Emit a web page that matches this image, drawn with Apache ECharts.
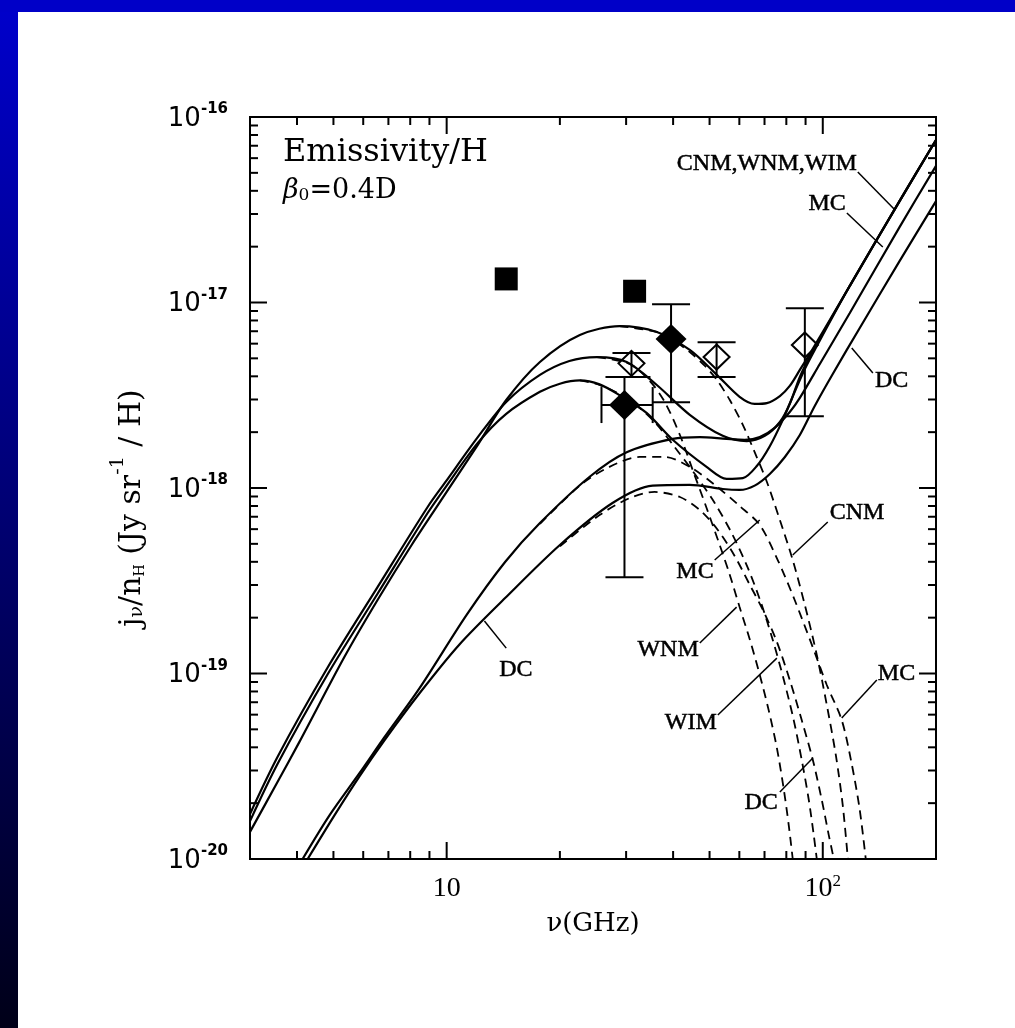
<!DOCTYPE html>
<html>
<head>
<meta charset="utf-8">
<title>Emissivity per H</title>
<script src="https://cdn.jsdelivr.net/npm/echarts/dist/echarts.min.js"></script>
<style>
  html, body { margin: 0; padding: 0; background: #fff; }
  #chart { width: 1015px; height: 1028px; }
</style>
</head>
<body>
<div id="chart"></div>
<script>
// Frequency ν in GHz, emissivity j_ν/n_H in Jy sr^-1 per H.

// Total emission (rotational + thermal) for each phase
const cnmTotal = [[3.0,1.40e-20],[3.55,2.60e-20],[4.06,4.28e-20],[5.35,1.23e-19],[6.55,2.49e-19],[8.07,4.93e-19],[10.0,9.52e-19],[12.1,1.71e-18],[14.4,2.98e-18],[17.7,4.78e-18],[22.6,6.68e-18],[28.8,7.46e-18],[36.2,6.94e-18],[44.3,5.55e-18],[52.3,4.07e-18],[60.1,3.10e-18],[65.9,2.84e-18],[71.0,2.87e-18],[76.9,3.13e-18],[81.7,3.55e-18],[86.9,4.33e-18],[92.3,5.27e-18],[118,1.23e-17],[160,3.52e-17],[200,7.52e-17]];
const wnmTotal = [[3.0,1.75e-20],[3.55,3.55e-20],[4.83,1.08e-19],[6.55,2.92e-19],[8.90,7.90e-19],[10.0,1.10e-18],[12.1,1.88e-18],[14.4,2.91e-18],[17.7,4.07e-18],[21.2,4.84e-18],[25.1,5.08e-18],[30.1,4.78e-18],[36.2,3.59e-18],[44.3,2.48e-18],[54.2,1.91e-18],[62.8,1.79e-18],[70.1,1.91e-18],[76.9,2.27e-18],[81.7,2.84e-18],[86.9,3.97e-18],[92.3,5.08e-18],[118,1.23e-17],[160,3.52e-17],[200,7.52e-17]];
const wimTotal = [[3.0,1.60e-20],[3.55,3.25e-20],[4.83,9.93e-20],[6.55,2.69e-19],[8.90,7.33e-19],[10.0,1.03e-18],[12.1,1.75e-18],[14.4,2.51e-18],[17.7,3.30e-18],[20.0,3.65e-18],[22.6,3.80e-18],[25.5,3.62e-18],[28.8,3.17e-18],[34.0,2.54e-18],[39.9,1.82e-18],[49.1,1.30e-18],[55.5,1.12e-18],[61.3,1.13e-18],[66.7,1.31e-18],[72.3,1.68e-18],[78.3,2.33e-18],[84.2,3.30e-18],[89.6,4.38e-18],[95.2,5.55e-18],[118,1.23e-17],[160,3.52e-17],[200,7.52e-17]];
const mcTotal = [[4.14,1.0e-20],[4.89,1.73e-20],[5.87,2.91e-20],[6.84,4.55e-20],[8.48,8.36e-20],[11.3,2.07e-19],[14.3,3.99e-19],[17.7,6.47e-19],[24.0,1.15e-18],[30.1,1.56e-18],[39.9,1.84e-18],[47.1,1.88e-18],[55.5,1.84e-18],[62.0,1.82e-18],[68.0,1.88e-18],[74.5,2.11e-18],[81.7,2.57e-18],[86.9,3.06e-18],[98.2,4.66e-18],[118,8.78e-18],[160,2.55e-17],[200,5.45e-17]];
const dcTotal = [[4.27,1.0e-20],[5.04,1.73e-20],[5.87,2.80e-20],[6.84,4.38e-20],[8.48,7.85e-20],[10.8,1.43e-19],[14.3,2.55e-19],[20.0,4.93e-19],[27.6,8.30e-19],[35.3,1.03e-18],[44.3,1.04e-18],[54.2,9.88e-19],[60.1,9.76e-19],[65.9,1.03e-18],[72.3,1.19e-18],[79.3,1.47e-18],[86.9,1.93e-18],[95.2,2.77e-18],[106.3,4.12e-18],[125.4,7.29e-18],[160,1.67e-17],[200,3.52e-17]];

// Rotational emission alone (dashed), high-frequency fall-off
const cnmSpin = [[28.8,7.46e-18],[36.2,6.94e-18],[39.9,6.29e-18],[44.3,5.41e-18],[48.6,4.55e-18],[52.3,3.82e-18],[56.6,2.98e-18],[61.3,2.19e-18],[65.9,1.56e-18],[71.0,1.08e-18],[76.9,6.72e-19],[83.2,4.09e-19],[89.6,2.34e-19],[96.4,1.26e-19],[102.5,6.76e-20],[108.3,3.64e-20],[113.0,1.95e-20],[116.6,1.0e-20]];
const wnmSpin = [[25.1,5.08e-18],[30.7,4.66e-18],[34.7,3.77e-18],[38.0,2.91e-18],[41.7,1.93e-18],[45.1,1.25e-18],[49.1,7.80e-19],[53.2,4.93e-19],[56.6,3.40e-19],[60.1,2.28e-19],[64.0,1.52e-19],[68.0,9.81e-20],[71.8,6.35e-20],[75.5,3.97e-20],[78.8,2.36e-20],[81.2,1.52e-20],[83.2,1.0e-20]];
const wimSpin = [[22.6,3.80e-18],[25.5,3.60e-18],[30.7,2.98e-18],[35.7,2.27e-18],[40.4,1.66e-18],[45.7,1.19e-18],[51.6,8.30e-19],[57.6,5.58e-19],[63.2,3.71e-19],[68.4,2.43e-19],[73.6,1.52e-19],[78.8,9.23e-20],[83.7,5.61e-20],[87.9,3.42e-20],[91.8,2.08e-20],[94.6,1.35e-20],[96.4,1.0e-20]];
const mcSpin = [[17.7,6.40e-19],[22.6,1.03e-18],[27.1,1.30e-18],[32.6,1.47e-18],[38.0,1.47e-18],[44.3,1.30e-18],[51.6,1.04e-18],[60.1,8.00e-19],[68.0,6.32e-19],[75.9,4.09e-19],[84.2,2.49e-19],[93.5,1.43e-19],[102.5,8.67e-20],[112.3,5.61e-20],[119.4,3.25e-20],[125.4,1.84e-20],[130.1,1.0e-20]];
const dcSpin = [[20.0,4.85e-19],[25.5,7.15e-19],[30.7,8.83e-19],[35.7,9.52e-19],[41.7,8.94e-19],[47.1,7.61e-19],[52.6,5.94e-19],[58.3,4.30e-19],[64.0,3.00e-19],[69.7,2.15e-19],[75.5,1.48e-19],[81.7,9.23e-20],[87.9,5.61e-20],[94.1,3.42e-20],[99.4,2.08e-20],[103.7,1.35e-20],[107.0,1.0e-20]];

// Measurements
const squarePoints = [[14.4,1.34e-17],[31.6,1.15e-17]];
const filledDiamonds = [[39.5,6.35e-18],[29.7,2.80e-18]];
const openDiamonds = [[31.0,4.70e-18],[52.2,5.08e-18],[89.6,5.90e-18]];
// [ν, j, j low, j high, ν low, ν high]
const filledErrors = [[39.5,6.35e-18,2.90e-18,9.80e-18,null,null],[29.7,2.80e-18,3.30e-19,3.97e-18,25.8,35.3]];
const openErrors = [[31.0,4.70e-18,3.97e-18,5.35e-18,null,null],[52.2,5.08e-18,3.97e-18,6.10e-18,null,null],[89.6,5.90e-18,2.44e-18,9.30e-18,null,null]];

// Axis ranges and tick marks
const X_MIN = 3, X_MAX = 200, Y_MIN = 1e-20, Y_MAX = 1e-16;
const xMajorTicks = [10, 100];
const xMinorTicks = [4, 5, 6, 7, 8, 9, 20, 30, 40, 50, 60, 70, 80, 90];
const yMajorTicks = [1e-20, 1e-19, 1e-18, 1e-17, 1e-16];
const yMinorTicks = [];
for (let e = -20; e < -16; e++) for (let k = 2; k <= 9; k++) yMinorTicks.push(k * Math.pow(10, e));

// Curve labels with leader lines: text sits next to the "from" end
const curveLabels = [
  { text: 'CNM,WNM,WIM', from: [123.9, 5.05e-17], to: [155.4, 3.16e-17], dx: -1, dy: -8, align: 'right' },
  { text: 'MC', from: [115.9, 3.04e-17], to: [144.4, 1.99e-17], dx: -1, dy: -9, align: 'right' },
  { text: 'DC', from: [135.9, 4.17e-18], to: [119.4, 5.69e-18], dx: 2, dy: 8, align: 'left' },
  { text: 'CNM', from: [103.1, 6.56e-19], to: [83.2, 4.35e-19], dx: 2, dy: -9, align: 'left' },
  { text: 'MC', from: [51.6, 4.09e-19], to: [68.0, 6.72e-19], dx: -1, dy: 12, align: 'right' },
  { text: 'WNM', from: [47.1, 1.46e-19], to: [59.0, 2.28e-19], dx: -1, dy: 7, align: 'right' },
  { text: 'WIM', from: [52.6, 5.97e-20], to: [75.5, 1.21e-19], dx: -1, dy: 8, align: 'right' },
  { text: 'DC', from: [76.9, 2.30e-20], to: [94.1, 3.50e-20], dx: -2, dy: 11, align: 'right' },
  { text: 'MC', from: [139.2, 9.23e-20], to: [112.3, 5.75e-20], dx: 1, dy: -6, align: 'left' },
  { text: 'DC', from: [14.4, 1.37e-19], to: [12.6, 1.92e-19], dx: -7, dy: 22, align: 'left' }
];

function powerOfTen(v) {
  const e = Math.log10(v);
  const n = Math.round(e);
  return Math.abs(e - n) < 1e-6 ? n : null;
}

function curve(data, dashed) {
  return {
    type: 'line', data: data, smooth: 0.3, showSymbol: false, symbol: 'none',
    silent: true, clip: true, z: dashed ? 2 : 3,
    lineStyle: { color: '#000', width: dashed ? 1.8 : 2.2, type: dashed ? [9, 6] : 'solid' },
    emphasis: { disabled: true }
  };
}

function tickSeries(values, onX, len) {
  return {
    type: 'custom', silent: true, clip: false, z: 6,
    data: values.map(v => onX ? [v, Y_MIN] : [X_MIN, v]),
    renderItem: function (params, api) {
      const style = { stroke: '#000', lineWidth: 2 };
      if (onX) {
        const v = api.value(0);
        const a = api.coord([v, Y_MIN]), b = api.coord([v, Y_MAX]);
        return { type: 'group', children: [
          { type: 'line', shape: { x1: a[0], y1: a[1], x2: a[0], y2: a[1] - len }, style: style },
          { type: 'line', shape: { x1: b[0], y1: b[1], x2: b[0], y2: b[1] + len }, style: style }
        ] };
      }
      const v = api.value(1);
      const a = api.coord([X_MIN, v]), b = api.coord([X_MAX, v]);
      return { type: 'group', children: [
        { type: 'line', shape: { x1: a[0], y1: a[1], x2: a[0] + len, y2: a[1] }, style: style },
        { type: 'line', shape: { x1: b[0], y1: b[1], x2: b[0] - len, y2: b[1] }, style: style }
      ] };
    }
  };
}

function errorBarSeries(rows) {
  return {
    type: 'custom', silent: true, clip: false, z: 4,
    dimensions: ['nu', 'j', 'jLo', 'jHi', 'nuLo', 'nuHi'],
    encode: { x: 0, y: 1 },
    data: rows,
    renderItem: function (params, api) {
      const style = { stroke: '#000', lineWidth: 2 };
      const nu = api.value(0), j = api.value(1);
      const lo = api.coord([nu, api.value(2)]), hi = api.coord([nu, api.value(3)]);
      const cap = 19;
      const kids = [
        { type: 'line', shape: { x1: lo[0], y1: lo[1], x2: hi[0], y2: hi[1] }, style: style },
        { type: 'line', shape: { x1: lo[0] - cap, y1: lo[1], x2: lo[0] + cap, y2: lo[1] }, style: style },
        { type: 'line', shape: { x1: hi[0] - cap, y1: hi[1], x2: hi[0] + cap, y2: hi[1] }, style: style }
      ];
      const nl = api.value(4), nh = api.value(5);
      if (nl > 0 && nh > 0) {
        const l = api.coord([nl, j]), r = api.coord([nh, j]);
        kids.push({ type: 'line', shape: { x1: l[0], y1: l[1], x2: r[0], y2: r[1] }, style: style });
        kids.push({ type: 'line', shape: { x1: l[0], y1: l[1] - 18, x2: l[0], y2: l[1] + 18 }, style: style });
        kids.push({ type: 'line', shape: { x1: r[0], y1: r[1] - 18, x2: r[0], y2: r[1] + 18 }, style: style });
      }
      return { type: 'group', children: kids };
    }
  };
}

const labelSeries = {
  type: 'custom', silent: true, clip: false, z: 7,
  dimensions: ['x1', 'y1', 'x2', 'y2'],
  encode: { x: [0, 2], y: [1, 3] },
  data: curveLabels.map(a => [a.from[0], a.from[1], a.to[0], a.to[1]]),
  renderItem: function (params, api) {
    const a = curveLabels[params.dataIndex];
    const p = api.coord([api.value(0), api.value(1)]);
    const q = api.coord([api.value(2), api.value(3)]);
    return { type: 'group', children: [
      { type: 'line', shape: { x1: p[0], y1: p[1], x2: q[0], y2: q[1] }, style: { stroke: '#000', lineWidth: 1.5 } },
      { type: 'text', style: { text: a.text, x: p[0] + a.dx, y: p[1] + a.dy, align: a.align, verticalAlign: 'middle',
        font: '24px "Liberation Serif"', fill: '#000', stroke: '#000', lineWidth: 0.5 } }
    ] };
  }
};

const chart = echarts.init(document.getElementById('chart'), null, { renderer: 'canvas' });
chart.setOption({
  animation: false,
  backgroundColor: '#fff',
  textStyle: { fontFamily: 'Liberation Serif', color: '#000' },
  grid: { left: 250, top: 117, width: 686, height: 742, show: true, borderColor: '#000', borderWidth: 2, backgroundColor: 'transparent' },
  graphic: [
    { type: 'rect', silent: true, shape: { x: 0, y: 0, width: 18, height: 1028 },
      style: { fill: new echarts.graphic.LinearGradient(0, 0, 0, 1, [{ offset: 0, color: '#0000cc' }, { offset: 1, color: '#000018' }]) } },
    { type: 'rect', silent: true, shape: { x: 0, y: 0, width: 1015, height: 12 }, style: { fill: '#0000c8' } },
    { type: 'text', silent: true, style: { text: 'Emissivity/H', x: 283, y: 153, verticalAlign: 'middle', font: '32px "DejaVu Serif"', fill: '#000' } },
    { type: 'text', silent: true, style: { text: '{g|β}{s|0}{t|=0.4D}', x: 283, y: 188, verticalAlign: 'middle',
      rich: {
        g: { fontFamily: 'DejaVu Serif', fontStyle: 'italic', fontSize: 27, lineHeight: 32, verticalAlign: 'bottom', fill: '#000' },
        s: { fontFamily: 'DejaVu Serif', fontSize: 17, lineHeight: 17, verticalAlign: 'bottom', fill: '#000' },
        t: { fontFamily: 'DejaVu Serif', fontSize: 27, lineHeight: 32, verticalAlign: 'bottom', fill: '#000' }
      } } }
  ],
  xAxis: {
    type: 'log', logBase: 10, min: X_MIN, max: X_MAX,
    axisLine: { show: false }, axisTick: { show: false }, splitLine: { show: false },
    minorTick: { show: false }, minorSplitLine: { show: false },
    axisLabel: {
      margin: 14,
      formatter: function (v) {
        const n = powerOfTen(v);
        if (n === null) return '';
        return n === 1 ? '{m|10}' : '{m|10}{e|' + n + '}';
      },
      rich: {
        m: { fontFamily: 'Liberation Serif', fontSize: 28, lineHeight: 30, verticalAlign: 'bottom', color: '#000' },
        e: { fontFamily: 'Liberation Serif', fontSize: 17, lineHeight: 17, verticalAlign: 'top', color: '#000' }
      }
    },
    name: 'ν(GHz)', nameLocation: 'middle', nameGap: 52,
    nameTextStyle: { fontFamily: 'DejaVu Serif', fontSize: 26, color: '#000' }
  },
  yAxis: {
    type: 'log', logBase: 10, min: Y_MIN, max: Y_MAX,
    axisLine: { show: false }, axisTick: { show: false }, splitLine: { show: false },
    minorTick: { show: false }, minorSplitLine: { show: false },
    axisLabel: {
      margin: 22,
      formatter: function (v) {
        const n = powerOfTen(v);
        if (n === null) return '';
        return '{m|10}{e|' + n + '}';
      },
      rich: {
        m: { fontFamily: 'DejaVu Sans', fontSize: 26, lineHeight: 30, verticalAlign: 'bottom', color: '#000' },
        e: { fontFamily: 'DejaVu Sans', fontSize: 15, fontWeight: 'bold', lineHeight: 15, verticalAlign: 'top', color: '#000' }
      }
    },
    name: '{t|j}{sub|ν}{t|/n}{subh|H}{t| (Jy sr}{sup|-1}{t| / H)}',
    nameLocation: 'middle', nameGap: 103, nameRotate: 90,
    nameTextStyle: {
      padding: [0, 40, 0, 0],
      rich: {
        t: { fontFamily: 'DejaVu Serif', fontSize: 30, lineHeight: 38, verticalAlign: 'bottom', color: '#000' },
        sub: { fontFamily: 'DejaVu Serif', fontSize: 19, lineHeight: 19, verticalAlign: 'bottom', color: '#000' },
        subh: { fontFamily: 'DejaVu Serif', fontSize: 14, lineHeight: 16, verticalAlign: 'bottom', color: '#000' },
        sup: { fontFamily: 'DejaVu Serif', fontSize: 19, lineHeight: 19, verticalAlign: 'top', color: '#000' }
      }
    }
  },
  series: [
    curve(cnmSpin, true), curve(wnmSpin, true), curve(wimSpin, true), curve(mcSpin, true), curve(dcSpin, true),
    curve(cnmTotal, false), curve(wnmTotal, false), curve(wimTotal, false), curve(mcTotal, false), curve(dcTotal, false),
    errorBarSeries(filledErrors),
    errorBarSeries(openErrors),
    { type: 'scatter', silent: true, z: 5, data: squarePoints, symbol: 'rect', symbolSize: 23, itemStyle: { color: '#000', opacity: 1 } },
    { type: 'scatter', silent: true, z: 5, data: filledDiamonds, symbol: 'diamond', symbolSize: [31, 30], itemStyle: { color: '#000', opacity: 1 } },
    { type: 'scatter', silent: true, z: 5, data: openDiamonds, symbol: 'diamond', symbolSize: [26, 25],
      itemStyle: { color: 'rgba(0,0,0,0)', borderColor: '#000', borderWidth: 2, opacity: 1 } },
    tickSeries(xMajorTicks, true, 17), tickSeries(xMinorTicks, true, 8),
    tickSeries(yMajorTicks, false, 17), tickSeries(yMinorTicks, false, 8),
    labelSeries
  ]
});
</script>
</body>
</html>
